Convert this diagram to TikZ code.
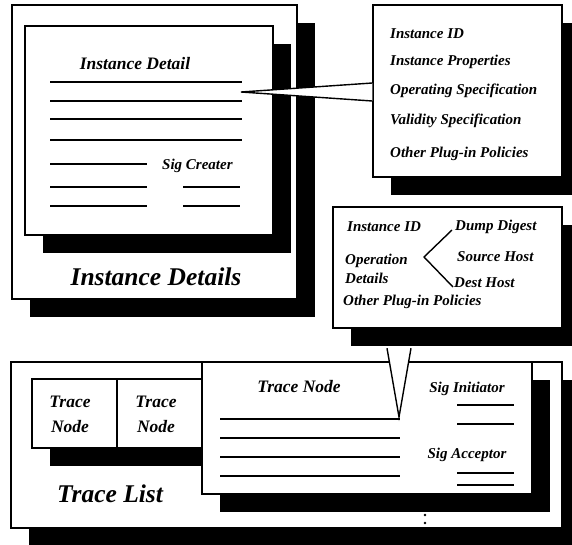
\documentclass[tikz,border=0pt]{standalone}
\usepackage{fontspec}
\setmainfont{Liberation Serif}
\usetikzlibrary{shadows}
\tikzset{
  box/.style={draw, fill=white, line width=1.4pt, inner sep=0pt},
  shadowed/.style={drop shadow={shadow xshift=18pt, shadow yshift=-18pt, opacity=1, fill=black}},
  rule/.style={line width=1.8pt},
  lbl/.style={font={\fontsize{15}{18}\selectfont\bfseries\itshape}, inner sep=0pt, anchor=base west},
  head/.style={font={\fontsize{17.5}{20}\selectfont\bfseries\itshape}, inner sep=0pt, anchor=base},
  title/.style={font={\fontsize{25.5}{30}\selectfont\bfseries\itshape}, inner sep=0pt, anchor=base},
  wedge/.style={fill=white},
}
\begin{document}
\begin{tikzpicture}[x=1pt, y=-1pt]
\useasboundingbox (0,0) rectangle (572,544);
\clip (0,0) rectangle (572,544);
%% Instance details
\node[box, shadowed, minimum width=285pt, minimum height=294pt](insbox) at (154.5,152) {};
\node[box, shadowed, minimum width=248pt, minimum height=209pt](detbox) at (149,130.5) {};
\node[head](dethead) at (135,69) {Instance Detail};
\foreach \y in {82,101,119,140} \draw[rule] (50,\y) -- (242,\y);
\foreach \y in {164,187,206} \draw[rule] (50,\y) -- (147,\y);
\foreach \y in {187,206} \draw[rule] (183,\y) -- (240,\y);
\node[lbl](sigc) at (162,169) {Sig Creater};
\node[title](instit) at (156,285) {Instance Details};
%% Instance ID callout
\node[box, shadowed, minimum width=189pt, minimum height=172pt](idbox) at (467.5,91) {};
\node[lbl](id1) at (390,38) {Instance ID};
\node[lbl](id2) at (390,65) {Instance Properties};
\node[lbl](id3) at (390,94) {Operating Specification};
\node[lbl](id4) at (390,124) {Validity Specification};
\node[lbl](id5) at (390,157) {Other Plug-in Policies};
\coordinate (tip1) at (241,92);
\fill[wedge] (tip1) -- ([yshift=8pt]idbox.west) -- ([yshift=-10pt]idbox.west) -- cycle;
\draw[line width=1.4pt] ([yshift=8pt]idbox.west) -- (tip1) -- ([yshift=-10pt]idbox.west);
%% Operation callout
\node[box, shadowed, minimum width=229pt, minimum height=121pt](opbox) at (447.5,267.5) {};
\node[lbl](op1) at (347,231) {Instance ID};
\node[lbl](op2) at (345,264) {Operation};
\node[lbl](op3) at (345,283) {Details};
\node[lbl](op4) at (343,305) {Other Plug-in Policies};
\node[lbl](dump) at (455,230) {Dump Digest};
\node[lbl](src) at (457,261) {Source Host};
\node[lbl](dest) at (454,287) {Dest Host};
\draw[line width=1.4pt] (452,230) -- (424,257) -- (453,287);
%% Trace list
\node[box, shadowed, minimum width=551pt, minimum height=166pt](listbox) at (286.5,445) {};
\node[box, shadowed, minimum width=85pt, minimum height=69pt](tn1) at (74.5,413.5) {};
\node[box, shadowed, minimum width=85pt, minimum height=69pt](tn2) at (159.5,413.5) {};
\node[head](tn1a) at (70,407) {Trace};
\node[head](tn1b) at (70,432) {Node};
\node[head](tn2a) at (156,407) {Trace};
\node[head](tn2b) at (156,432) {Node};
\node[title](listtit) at (110,502) {Trace List};
\node[box, shadowed, minimum width=330pt, minimum height=132pt](tnbox) at (367,428) {};
\node[head](tnhead) at (299,392) {Trace Node};
\foreach \y in {419,438,457,476} \draw[rule] (220,\y) -- (400,\y);
\foreach \y in {405,424,473,485} \draw[rule] (457,\y) -- (514,\y);
\node[lbl, anchor=base](sigi) at (467,392) {Sig Initiator};
\node[lbl, anchor=base](siga) at (467,458) {Sig Acceptor};
\fill (425,515) circle (1.3pt) (425,523) circle (1.3pt);
%% Trace node callout
\coordinate (tip2) at (399,417);
\fill[wedge] ([shift={(-60.5pt,-19.5pt)}]opbox.south) -- (tip2) -- ([shift={(-36.5pt,-19.5pt)}]opbox.south) -- cycle;
\draw[line width=1.4pt] ([shift={(-60.5pt,-19.5pt)}]opbox.south) -- (tip2) -- ([shift={(-36.5pt,-19.5pt)}]opbox.south);
\end{tikzpicture}
\end{document}
